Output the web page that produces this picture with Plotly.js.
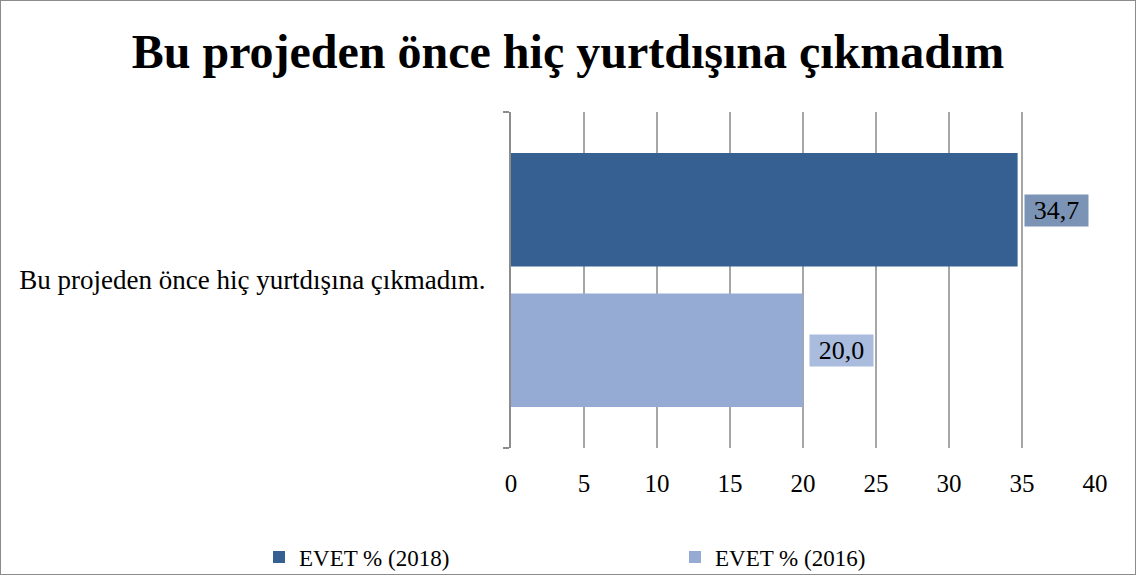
<!DOCTYPE html>
<html>
<head>
<meta charset="utf-8">
<script src="https://cdn.plot.ly/plotly-3.0.1.min.js"></script>
<style>
html,body{margin:0;padding:0;background:#fff;}
#wrap{width:1136px;height:575px;box-sizing:border-box;border:1px solid #8c8c8c;}
#chart{width:1134px;height:573px;}
</style>
</head>
<body>
<div id="wrap"><div id="chart"></div></div>
<script>
var categories = ["Bu projeden önce hiç yurtdışına çıkmadım."];
var seriesNames = ["EVET % (2018)", "EVET % (2016)"];
var values2018 = [34.7];
var values2016 = [20.0];
var xTicks = [0, 5, 10, 15, 20, 25, 30, 35, 40];

var barColors = ["#376092", "#95abd4"];
var labelBg = ["#7b94b5", "#a9bcdd"];
var legendIds = ['legend', 'legend2'];
var legendX = [258, 674];
var font = "Liberation Serif, Times New Roman, serif";
var series = [values2018, values2016];

var traces = series.map(function(v, i){
  return {
    type: 'bar', orientation: 'h', name: seriesNames[i],
    x: v, y: categories, legend: legendIds[i],
    marker: {color: barColors[i]},
    hoverinfo: 'x'
  };
});

var annotations = [];
series.forEach(function(v, i){
  v.forEach(function(val, j){
    annotations.push({
      x: val, y: categories[j], xref: 'x', yref: 'y',
      text: val.toFixed(1).replace('.', ','),
      showarrow: false, xanchor: 'left', yanchor: 'middle',
      xshift: 6, yshift: i === 0 ? 70 : -70,
      width: 59, height: 27,
      bgcolor: labelBg[i], borderpad: 2,
      font: {family: font, size: 26, color: '#000'}
    });
  });
});

function legendCfg(i){
  return {orientation: 'h', xref: 'container', yref: 'container',
          x: legendX[i]/1134, xanchor: 'left', y: 1 - 556/573, yanchor: 'middle',
          font: {family: font, size: 23}, itemwidth: 30, bgcolor: 'rgba(0,0,0,0)'};
}

var layout = {
  width: 1134, height: 573,
  margin: {l: 510, r: 40, t: 111, b: 126},
  paper_bgcolor: '#fff', plot_bgcolor: '#fff',
  font: {family: font, size: 20, color: '#000'},
  title: {text: '<b>Bu projeden önce hiç yurtdışına çıkmadım</b>',
          font: {family: font, size: 48, color: '#000'},
          x: 0.5, xanchor: 'center', y: 1 - 50/573, yanchor: 'middle', yref: 'container'},
  barmode: 'group', bargap: 0.164, bargroupgap: 0.193,
  xaxis: {range: [0, 40], tickvals: xTicks, showgrid: true, gridcolor: '#a6a6a6', gridwidth: 1.5,
          zeroline: false, showline: false, ticks: '', ticklen: 0, ticklabelstandoff: 18,
          tickfont: {family: font, size: 25}, fixedrange: true},
  yaxis: {autorange: 'reversed', showline: true, linecolor: '#8c8c8c', linewidth: 2,
          ticks: 'outside', tickson: 'boundaries', ticklen: 6, tickcolor: '#8c8c8c', tickwidth: 2,
          ticklabelstandoff: 18,
          tickfont: {family: font, size: 27}, showgrid: false, zeroline: false},
  showlegend: true,
  legend: legendCfg(0),
  legend2: legendCfg(1),
  annotations: annotations
};

Plotly.newPlot('chart', traces, layout, {displayModeBar: false, staticPlot: true});
</script>
</body>
</html>
